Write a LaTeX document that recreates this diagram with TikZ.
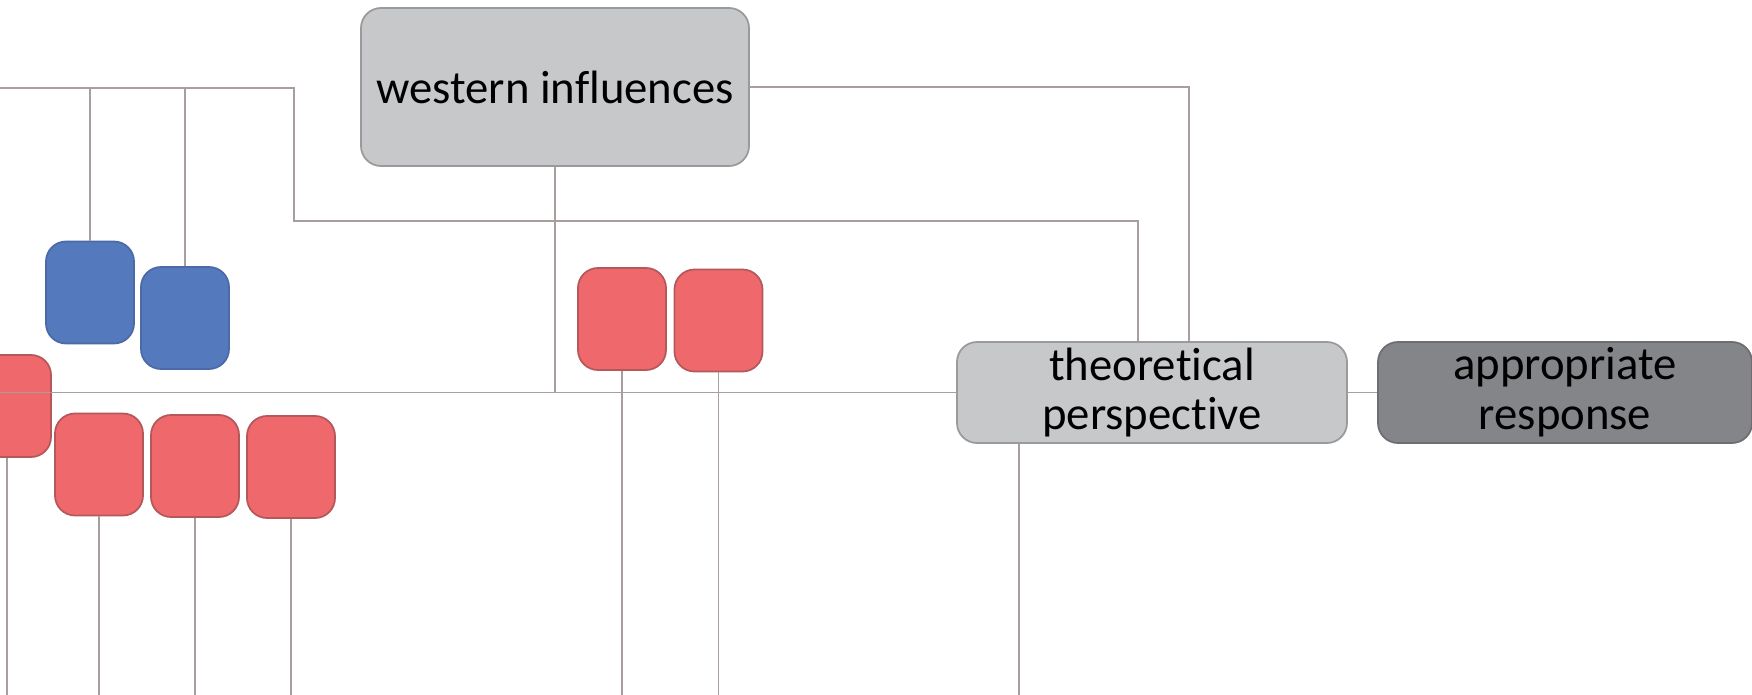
\documentclass[tikz,border=0pt]{standalone}
\usepackage{fontspec}
\setmainfont{Carlito}[Ligatures=NoCommon]
\usepackage{tikz}
\usetikzlibrary{positioning}
\definecolor{topicfill}{HTML}{C7C8CA}
\definecolor{topicline}{HTML}{9A9A9C}
\definecolor{respfill}{HTML}{848589}
\definecolor{respline}{HTML}{6E6E72}
\definecolor{redfill}{HTML}{EF696C}
\definecolor{redline}{HTML}{B5585B}
\definecolor{bluefill}{HTML}{5479BD}
\definecolor{blueline}{HTML}{4B6AA6}
\definecolor{linkgray}{HTML}{A89E9E}
\tikzset{
  topic/.style={draw=topicline,fill=topicfill,line width=0.5pt,rounded corners=2mm,
    minimum width=38.8mm,minimum height=15.8mm,inner sep=0pt,align=center,
    font=\fontsize{13.3pt}{14.2pt}\selectfont},
  answer/.style={topic,draw=respline,fill=respfill,minimum width=37.4mm,minimum height=10.1mm},
  redbox/.style={draw=redline,fill=redfill,line width=0.5pt,rounded corners=2mm,
    minimum width=8.8mm,minimum height=10.2mm,inner sep=0pt},
  bluebox/.style={redbox,draw=blueline,fill=bluefill},
  link/.style={draw=linkgray,line width=0.45pt}
}

\begin{document}
\begin{tikzpicture}[x=0.1mm,y=-0.1mm]
  \useasboundingbox (0,0) rectangle (1752,695);

  \node[topic] (west) at (555,87) {western influences};
  \node[topic,minimum width=39mm,minimum height=10.1mm] (theo) at (1152,392.5) {theoretical\\perspective};
  \node[answer] (resp) at (1565,392.5) {appropriate\\response};

  \node[bluebox] (b1) at (90,292.5) {};
  \node[bluebox] (b2) at (185,318) {};
  \node[redbox] (r0) at (7,406) {};
  \node[redbox] (r1) at (99,464.5) {};
  \node[redbox] (r2) at (195,466) {};
  \node[redbox] (r3) at (291,467) {};
  \node[redbox] (r4) at (622,319) {};
  \node[redbox] (r5) at (718.5,320.5) {};

  \coordinate (lin) at (0,88);
  \coordinate (hub) at (0,392.5);
  \coordinate (floor) at (0,695);
  \coordinate (t1) at (1138,221);
  \coordinate (t2) at (1189,88);
  \coordinate (ts) at (1019,695);

  \draw[link] (lin) -| (294,221) -| (theo.north -| t1);
  \draw[link] (west.east) -| (theo.north -| t2);
  \draw[link] (b1.north |- lin) -- (b1.north);
  \draw[link] (b2.north |- lin) -- (b2.north);
  \draw[link] (west.south) -- (west.south |- hub);
  \draw[link] (hub) -- (theo.west);
  \draw[link] (theo.east) -- (resp.west);
  \draw[link] (theo.south -| ts) -- (ts);
  \foreach \n in {r0,r1,r2,r3,r4,r5}
    \draw[link] (\n.south) -- (\n.south |- floor);
\end{tikzpicture}
\end{document}
